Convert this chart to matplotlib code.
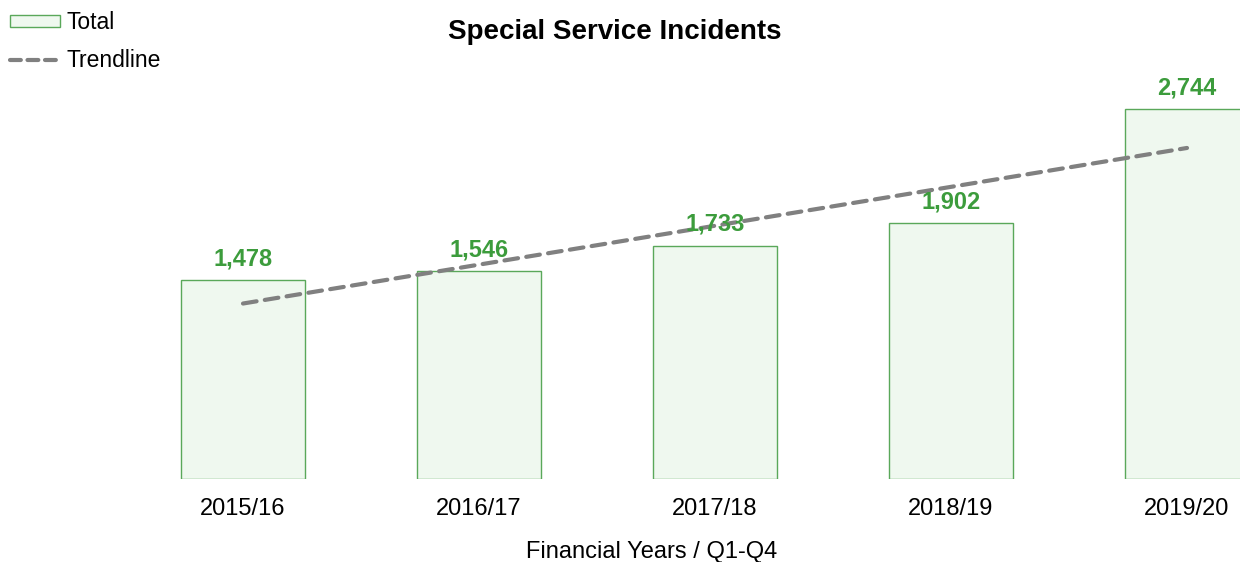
import numpy as np
import matplotlib
matplotlib.use("Agg")
import matplotlib.pyplot as plt
from matplotlib.patches import Patch
from matplotlib.lines import Line2D

plt.rcParams['font.family'] = ['Liberation Sans', 'DejaVu Sans']

categories = ["2015/16", "2016/17", "2017/18", "2018/19", "2019/20"]
totals = [1478, 1546, 1733, 1902, 2744]

W, H = 1240, 562
fig = plt.figure(figsize=(W / 100, H / 100), dpi=100)
ax_left, ax_right_full = 125, 1305
ax_bottom, ax_top = 479, 75
ax = fig.add_axes([ax_left / W, (H - ax_bottom) / H, (ax_right_full - ax_left) / W, (ax_bottom - ax_top) / H])

x = np.arange(len(categories))
bars = ax.bar(x, totals, width=0.525, color='#eff8ef', edgecolor='#5aa85a', linewidth=1.0)

coef = np.polyfit(x, totals, 1)
trend = np.polyval(coef, x)
ax.plot(x, trend, color='#808080', linewidth=3, linestyle=(0, (3.3, 2.0)), dash_capstyle='round')

for xi, v in zip(x, totals):
    ax.annotate(f"{v:,}", (xi, v), xytext=(0, 7), textcoords='offset points',
                ha='center', va='bottom', color='#3c9c3c', fontsize=17, fontweight='bold')

ax.set_xlim(-0.5, 4.5)
ax.set_ylim(0, 3000)
ax.set_xticks(x)
ax.set_xticklabels(categories, fontsize=17)
ax.tick_params(axis='x', length=0, pad=14)
ax.set_yticks([])
for s in ax.spines.values():
    s.set_visible(False)

fig.text(615 / W, 1 - 32 / H, "Special Service Incidents", ha='center', va='center',
         fontsize=20, fontweight='bold')
fig.text(652 / W, 1 - 558 / H, "Financial Years / Q1-Q4", ha='center', va='baseline', fontsize=17)

handles = [Patch(facecolor='#eff8ef', edgecolor='#5aa85a', linewidth=1.0),
           Line2D([0], [0], color='#808080', linewidth=3, linestyle=(0, (2.6, 1.6)), dash_capstyle='round')]
fig.legend(handles, ["Total", "Trendline"], loc='upper left', bbox_to_anchor=(3 / W, 1 - 4 / H),
           frameon=False, fontsize=16.5, handlelength=2.2, handleheight=0.45, handletextpad=0.25,
           labelspacing=0.65, borderaxespad=0.0, borderpad=0.3)

fig.savefig("out.png", dpi=100)
